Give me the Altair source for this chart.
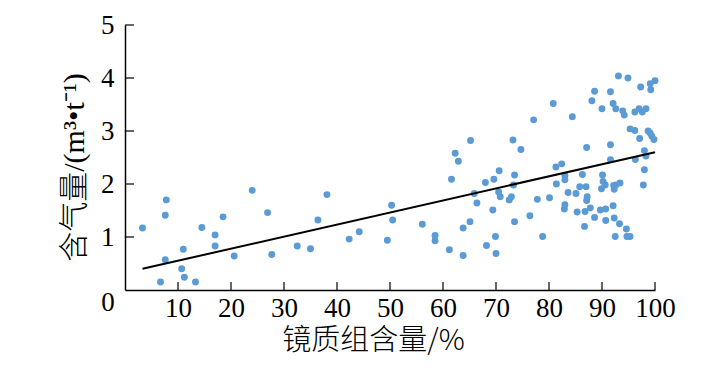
import altair as alt
import pandas as pd

# scatter data: vitrinite content (%) vs gas content (m3/t)
vitrinite = [
    3.3, 6.7, 7.8, 7.6, 7.6, 11.0, 10.7, 11.2, 13.3, 14.5, 17.0, 17.0, 18.5, 20.6,
    24.0, 26.9, 27.7, 32.5, 35.0, 36.4, 38.1, 42.3, 44.2, 49.5, 50.3, 50.5,
    56.1, 58.5, 58.5, 61.6, 62.3, 62.9, 61.2, 63.8, 63.8, 65.1, 65.2, 65.9, 66.4,
    68.0, 68.2, 69.6, 69.4, 69.9, 70.0, 70.6, 70.5, 70.8, 72.5, 72.9, 73.2, 73.5,
    73.3, 73.5, 74.7, 76.4, 77.1, 77.8, 78.8, 80.1, 80.8, 81.3, 82.4, 81.4, 83.0,
    83.0, 83.6, 83.0, 82.9, 84.4, 85.1, 85.3, 85.8, 86.3, 87.0, 87.1, 87.2, 87.1,
    86.8, 86.7, 87.8, 88.1, 88.6, 88.6, 89.7, 90.0, 90.1, 89.9, 90.2, 90.6, 90.7,
    90.7, 91.6, 91.6, 91.6, 92.1, 92.6, 92.1, 92.3, 92.6, 92.3, 92.5, 93.1, 93.4,
    93.3, 93.9, 94.2, 94.6, 94.9, 94.7, 95.3, 95.3, 96.2, 96.2, 97.0, 97.6, 98.3,
    97.3, 97.1, 96.3, 98.0, 98.3, 98.0, 97.8, 98.7, 99.1, 99.4, 99.8, 99.1, 100.0,
    99.2, 92.2,
]
gas = [
    1.17, 0.15, 1.70, 1.41, 0.57, 0.77, 0.40, 0.24, 0.15, 1.18, 1.04, 0.83, 1.38, 0.64,
    1.88, 1.46, 0.67, 0.83, 0.78, 1.32, 1.80, 0.96, 1.10, 0.94, 1.60, 1.32,
    1.24, 1.03, 0.93, 2.09, 2.58, 2.43, 0.76, 1.17, 0.65, 1.29, 2.82, 1.82, 1.64,
    2.03, 0.84, 2.09, 1.51, 1.01, 0.69, 2.25, 1.85, 1.76, 1.70, 1.76, 2.83, 2.17,
    1.98, 1.29, 2.65, 1.40, 3.21, 1.71, 1.01, 1.74, 3.52, 2.32, 2.38, 2.00, 2.16,
    2.08, 1.84, 1.61, 1.53, 3.27, 1.82, 1.47, 1.95, 2.18, 1.95, 2.69, 1.76, 1.69,
    1.48, 1.20, 1.55, 3.57, 3.75, 1.37, 1.51, 3.42, 2.17, 1.91, 2.05, 1.98, 1.53,
    1.31, 2.74, 2.46, 3.74, 3.52, 3.42, 1.59, 1.90, 1.98, 1.36, 1.01, 4.04, 2.02,
    1.25, 3.38, 3.30, 1.15, 4.00, 1.01, 1.01, 3.04, 3.01, 3.36, 3.42, 3.36, 3.42,
    3.83, 2.86, 2.46, 2.63, 2.53, 2.27, 1.98, 3.00, 2.96, 2.90, 2.84, 3.89, 3.95,
    3.78, 1.97,
]

# fitted line end points
fit_x = [3.3, 100.0]
fit_y = [0.40, 2.60]

x_ticks = [10, 20, 30, 40, 50, 60, 70, 80, 90, 100]
y_ticks = [1, 2, 3, 4, 5]

SERIF = "Liberation Serif, Noto Serif, serif"
MIXED = "Liberation Serif, Noto Sans CJK SC"
CJK = "Noto Sans CJK SC"

pts = pd.DataFrame({"x": vitrinite, "y": gas})
fit = pd.DataFrame({"x": fit_x, "y": fit_y})
xt = pd.DataFrame({"v": x_ticks})
yt = pd.DataFrame({"v": y_ticks})
origin = pd.DataFrame({"x": [0], "y": [0], "t": ["0"]})

xscale = alt.Scale(domain=[0, 100], nice=False, zero=False)
yscale = alt.Scale(domain=[0, 5], nice=False, zero=False)

xaxis = alt.Axis(
    values=x_ticks, ticks=False, tickSize=0, grid=False, domainColor="black",
    domainWidth=1.5, labelFont=SERIF, labelFontSize=27, labelColor="black",
    labelPadding=5, labelFlush=False, labelOverlap=False,
    title="镜质组含量/%", titleFont=CJK, titleFontSize=29, titleFontWeight=300,
    titleColor="black", titleX=248, titleY=36, titleAlign="center", titleBaseline="top",
)
yaxis = alt.Axis(
    values=y_ticks, ticks=False, tickSize=0, grid=False, domainColor="black",
    domainWidth=1.5, labelFont=SERIF, labelFontSize=27, labelColor="black",
    labelPadding=11, labelFlush=False, labelOverlap=False,
    title="含气量/(m³•t⁻¹)", titleFont=MIXED, titleFontSize=30, titleFontWeight=300,
    titleColor="black", titleX=-36, titleY=142, titleAngle=270, titleAlign="center",
    titleBaseline="bottom",
)

points = alt.Chart(pts).mark_circle(size=48, color="#5b9bd5", opacity=1).encode(
    x=alt.X("x:Q", scale=xscale, axis=xaxis),
    y=alt.Y("y:Q", scale=yscale, axis=yaxis),
)

line = alt.Chart(fit).mark_line(color="black", strokeWidth=2).encode(
    x=alt.X("x:Q", scale=xscale),
    y=alt.Y("y:Q", scale=yscale),
)

xtick_marks = alt.Chart(xt).mark_rule(color="black", strokeWidth=1.2).encode(
    x=alt.X("v:Q", scale=xscale),
    y=alt.value(265),
    y2=alt.value(257),
)
ytick_marks = alt.Chart(yt).mark_rule(color="black", strokeWidth=1.2).encode(
    y=alt.Y("v:Q", scale=yscale),
    x=alt.value(0),
    x2=alt.value(9),
)

zero_label = alt.Chart(origin).mark_text(
    font=SERIF, fontSize=27, color="black", dx=-17, dy=13, align="center", baseline="middle"
).encode(
    x=alt.X("x:Q", scale=xscale),
    y=alt.Y("y:Q", scale=yscale),
    text="t:N",
)

chart = alt.layer(points, line, xtick_marks, ytick_marks, zero_label).properties(
    width=530,
    height=265,
    autosize=alt.AutoSizeParams(type="none"),
    padding={"left": 125, "top": 25, "right": 71, "bottom": 86},
    background="white",
).configure_view(stroke=None)

chart.save("out.html", embed_options={"renderer": "svg", "actions": False})
